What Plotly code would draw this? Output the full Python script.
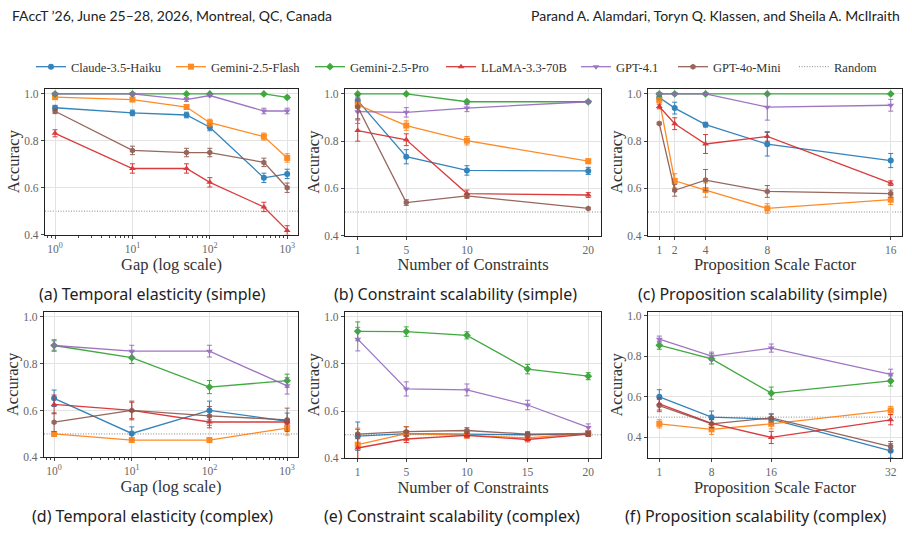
import plotly.graph_objects as go

W, H = 912, 559

models = ["Claude-3.5-Haiku", "Gemini-2.5-Flash", "Gemini-2.5-Pro",
          "LLaMA-3.3-70B", "GPT-4.1", "GPT-4o-Mini"]
colors = ["#1f77b4", "#ff7f0e", "#2ca02c", "#d62728", "#9467bd", "#8c564b"]
symbols = ["circle", "square", "diamond", "triangle-up", "triangle-down", "hexagon"]
random_baseline = 0.5

# (a) Temporal elasticity (simple)
a_x = [1, 10, 50, 100, 500, 1000]
a_acc = [
    [0.941, 0.919, 0.910, 0.858, 0.642, 0.659],
    [0.986, 0.976, 0.944, 0.877, 0.818, 0.727],
    [1.000, 1.000, 1.000, 1.000, 1.000, 0.985],
    [0.832, 0.682, 0.682, 0.623, 0.518, 0.418],
    [1.000, 1.000, 0.976, 0.993, 0.927, 0.927],
    [0.926, 0.759, 0.750, 0.750, 0.708, 0.600],
]
a_err = [
    [0.010, 0.012, 0.012, 0.015, 0.020, 0.020],
    [0.008, 0.008, 0.010, 0.015, 0.015, 0.018],
    [0.000, 0.000, 0.000, 0.000, 0.000, 0.006],
    [0.015, 0.020, 0.020, 0.020, 0.020, 0.020],
    [0.000, 0.000, 0.008, 0.005, 0.012, 0.012],
    [0.010, 0.018, 0.018, 0.018, 0.018, 0.020],
]

# (b) Constraint scalability (simple)
b_x = [1, 5, 10, 20]
b_acc = [
    [0.972, 0.734, 0.676, 0.674],
    [0.954, 0.866, 0.802, 0.715],
    [1.000, 1.000, 0.967, 0.967],
    [0.845, 0.806, 0.578, 0.572],
    [0.925, 0.922, 0.940, 0.967],
    [0.945, 0.540, 0.568, 0.515],
]
b_err = [
    [0.015, 0.030, 0.020, 0.015],
    [0.030, 0.020, 0.018, 0.010],
    [0.000, 0.000, 0.006, 0.005],
    [0.045, 0.025, 0.015, 0.010],
    [0.050, 0.020, 0.015, 0.005],
    [0.050, 0.012, 0.010, 0.004],
]

# (c) Proposition scalability (simple)
c_x = [1, 2, 4, 8, 16]
c_acc = [
    [0.985, 0.940, 0.870, 0.787, 0.718],
    [0.975, 0.632, 0.593, 0.515, 0.552],
    [1.000, 1.000, 1.000, 1.000, 1.000],
    [0.947, 0.874, 0.788, 0.820, 0.622],
    [1.000, 1.000, 1.000, 0.944, 0.952],
    [0.875, 0.592, 0.635, 0.587, 0.578],
]
c_err = [
    [0.010, 0.025, 0.010, 0.050, 0.030],
    [0.010, 0.030, 0.030, 0.020, 0.020],
    [0.000, 0.000, 0.000, 0.000, 0.000],
    [0.010, 0.025, 0.040, 0.020, 0.010],
    [0.000, 0.000, 0.000, 0.055, 0.025],
    [0.005, 0.025, 0.045, 0.025, 0.015],
]

# (d) Temporal elasticity (complex)
d_x = [1, 10, 100, 1000]
d_acc = [
    [0.652, 0.502, 0.600, 0.554],
    [0.500, 0.474, 0.474, 0.525],
    [0.877, 0.825, 0.700, 0.727],
    [0.626, 0.600, 0.551, 0.551],
    [0.877, 0.853, 0.853, 0.705],
    [0.550, 0.600, 0.577, 0.560],
]
d_err = [
    [0.035, 0.028, 0.040, 0.035],
    [0.010, 0.010, 0.010, 0.030],
    [0.020, 0.025, 0.028, 0.028],
    [0.040, 0.035, 0.025, 0.010],
    [0.025, 0.025, 0.025, 0.035],
    [0.040, 0.040, 0.040, 0.050],
]

# (e) Constraint scalability (complex)
e_x = [1, 5, 10, 15, 20]
e_acc = [
    [0.494, 0.505, 0.503, 0.500, 0.506],
    [0.458, 0.505, 0.497, 0.487, 0.507],
    [0.938, 0.937, 0.921, 0.778, 0.748],
    [0.444, 0.482, 0.497, 0.480, 0.503],
    [0.905, 0.694, 0.690, 0.626, 0.531],
    [0.503, 0.513, 0.518, 0.503, 0.503],
]
e_err = [
    [0.060, 0.010, 0.010, 0.010, 0.010],
    [0.070, 0.030, 0.010, 0.010, 0.010],
    [0.040, 0.020, 0.015, 0.020, 0.015],
    [0.060, 0.015, 0.010, 0.010, 0.010],
    [0.050, 0.030, 0.025, 0.020, 0.015],
    [0.020, 0.020, 0.012, 0.010, 0.010],
]

# (f) Proposition scalability (complex)
f_x = [1, 8, 16, 32]
f_acc = [
    [0.600, 0.500, 0.490, 0.334],
    [0.467, 0.440, 0.467, 0.533],
    [0.854, 0.787, 0.618, 0.678],
    [0.565, 0.469, 0.400, 0.487],
    [0.884, 0.800, 0.840, 0.711],
    [0.557, 0.467, 0.496, 0.355],
]
f_err = [
    [0.035, 0.030, 0.025, 0.035],
    [0.020, 0.025, 0.025, 0.020],
    [0.020, 0.025, 0.030, 0.025],
    [0.030, 0.020, 0.030, 0.025],
    [0.015, 0.020, 0.020, 0.025],
    [0.030, 0.020, 0.020, 0.025],
]

captions = ["(a) Temporal elasticity (simple)", "(b) Constraint scalability (simple)",
            "(c) Proposition scalability (simple)", "(d) Temporal elasticity (complex)",
            "(e) Constraint scalability (complex)", "(f) Proposition scalability (complex)"]
xtitles = ["Gap (log scale)", "Number of Constraints", "Proposition Scale Factor",
           "Gap (log scale)", "Number of Constraints", "Proposition Scale Factor"]
header_left = "FAccT \u201926, June 25\u201328, 2026, Montreal, QC, Canada"
header_right = "Parand A. Alamdari, Toryn Q. Klassen, and Sheila A. McIlraith"

panels = [
    dict(x=a_x, acc=a_acc, err=a_err, log=True, xr=[-0.13, 3.14], yr=[0.4, 1.022],
         box=(45, 298, 88, 236), ticks=[1, 10, 100, 1000]),
    dict(x=b_x, acc=b_acc, err=b_err, log=False, xr=[-0.05, 21.05], yr=[0.4, 1.022],
         box=(345, 601, 88, 237), ticks=b_x),
    dict(x=c_x, acc=c_acc, err=c_err, log=False, xr=[0.27, 16.73], yr=[0.4, 1.022],
         box=(648, 902, 88, 237), ticks=c_x),
    dict(x=d_x, acc=d_acc, err=d_err, log=True, xr=[-0.13, 3.14], yr=[0.4, 1.022],
         box=(44, 298, 314, 462), ticks=d_x),
    dict(x=e_x, acc=e_acc, err=e_err, log=False, xr=[-0.05, 21.05], yr=[0.4, 1.022],
         box=(345, 601, 314, 463), ticks=e_x),
    dict(x=f_x, acc=f_acc, err=f_err, log=False, xr=[-0.52, 33.52], yr=[0.297, 1.02],
         box=(648, 902, 314, 463), ticks=f_x),
]

SERIF = "Liberation Serif, DejaVu Serif, serif"
SANS = "Noto Sans, Open Sans, sans-serif"

fig = go.Figure()
layout = dict(width=W, height=H, margin=dict(l=0, r=0, t=0, b=0),
              paper_bgcolor="white", plot_bgcolor="white", showlegend=True)

# legend slot positions (left edge of symbol line, px)
leg_left = [37, 177, 316, 447, 582, 679, 800]
for i, lx in enumerate(leg_left):
    key = "legend" if i == 0 else f"legend{i+1}"
    layout[key] = dict(x=(lx - 6) / W, y=1 - 66 / H, xanchor="left", yanchor="middle",
                       orientation="h", bgcolor="rgba(0,0,0,0)", borderwidth=0,
                       font=dict(family=SERIF, size=12.5, color="#333"),
                       itemwidth=30, tracegroupgap=0)

annotations = []
shapes = []
for p_i, p in enumerate(panels):
    n = p_i + 1
    xa = "x" if n == 1 else f"x{n}"
    ya = "y" if n == 1 else f"y{n}"
    l, r, t, b = p["box"]
    xkey = "xaxis" if n == 1 else f"xaxis{n}"
    ykey = "yaxis" if n == 1 else f"yaxis{n}"
    common = dict(showline=True, mirror=True, linecolor="#222", linewidth=1.2,
                  showgrid=True, gridcolor="#e3e3e3", gridwidth=1, zeroline=False,
                  ticks="outside", ticklen=3, tickcolor="#444",
                  tickfont=dict(family=SERIF, size=11.5, color="#666"))
    xax = dict(common, domain=[l / W, r / W], anchor=ya, range=p["xr"],
               title=dict(text=xtitles[p_i], font=dict(family=SERIF, size=16.5, color="#333"),
                          standoff=1))
    if p["log"]:
        xax.update(type="log", tickvals=p["ticks"],
                   ticktext=[f"10<sup>{k}</sup>" for k in range(len(p["ticks"]))],
                   minor=dict(ticks="outside", ticklen=2, tickcolor="#444", showgrid=False,
                              tickvals=[m * 10 ** k for k in range(-1, 4) for m in range(2, 10)]))
    else:
        xax.update(tickvals=p["ticks"])
    yax = dict(common, domain=[1 - b / H, 1 - t / H], anchor=xa, range=p["yr"],
               tickvals=[0.4, 0.6, 0.8, 1.0], ticktext=["0.4", "0.6", "0.8", "1.0"],
               title=dict(text="Accuracy", font=dict(family=SERIF, size=16.5, color="#333"),
                          standoff=0))
    layout[xkey] = xax
    layout[ykey] = yax

    shapes.append(dict(type="line", xref=f"{xa} domain", yref=ya, x0=0, x1=1,
                       y0=random_baseline, y1=random_baseline,
                       line=dict(color="#888", width=1, dash="1px,1.6px"), layer="below"))

    for m_i, name in enumerate(models):
        fig.add_trace(go.Scatter(
            x=p["x"], y=p["acc"][m_i], name=name, mode="lines+markers",
            xaxis=xa, yaxis=ya,
            line=dict(color=colors[m_i], width=1.3),
            marker=dict(symbol=symbols[m_i], size=6, color=colors[m_i],
                        line=dict(width=0)),
            opacity=0.9,
            error_y=dict(type="data", array=p["err"][m_i], color=colors[m_i],
                         thickness=1, width=2.5),
            showlegend=(p_i == 0),
            legend=("legend" if m_i == 0 else f"legend{m_i+1}"),
        ))

# legend entry for the random baseline
fig.add_trace(go.Scatter(x=[None], y=[None], mode="lines", name="Random",
                         line=dict(color="#888", width=1, dash="1px,1.6px"),
                         xaxis="x", yaxis="y", showlegend=True, legend="legend7"))

cap_cx = [152, 455, 762, 152, 452, 755]
cap_cy = [296, 296, 296, 521, 521, 521]
for i, c in enumerate(captions):
    annotations.append(dict(text=c, x=cap_cx[i] / W, y=1 - cap_cy[i] / H, xref="paper",
                            yref="paper", showarrow=False, xanchor="center", yanchor="middle",
                            font=dict(family=SANS, size=16, color="#222")))
annotations.append(dict(text=header_left, x=10 / W, y=1 - 14 / H, xref="paper", yref="paper",
                        showarrow=False, xanchor="left", yanchor="middle",
                        font=dict(family="Lato, sans-serif", size=14, color="#222")))
annotations.append(dict(text=header_right, x=902 / W, y=1 - 14 / H, xref="paper", yref="paper",
                        showarrow=False, xanchor="right", yanchor="middle",
                        font=dict(family="Lato, sans-serif", size=14, color="#222")))

layout["annotations"] = annotations
layout["shapes"] = shapes
fig.update_layout(**layout)
fig.write_html("out.html")
